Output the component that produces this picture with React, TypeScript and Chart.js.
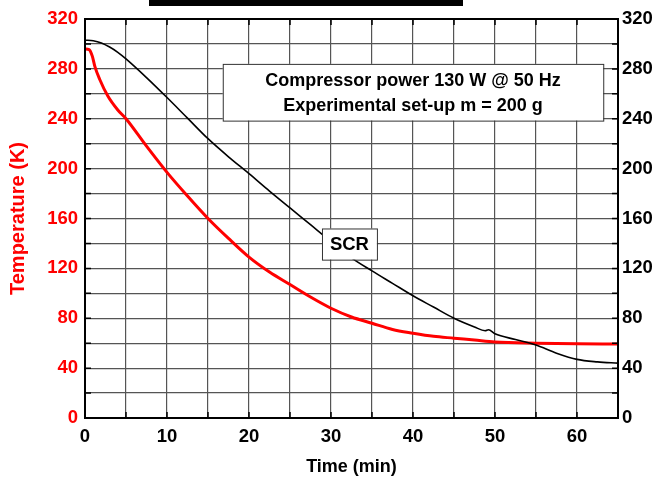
import React, { useEffect, useRef } from 'react';
import { Chart, registerables } from 'chart.js';

Chart.register(...registerables);

const FONT = "'Liberation Sans', Arial, Helvetica, sans-serif";

const redTime = [0, 0.5, 0.9, 1.2, 1.8, 2.8, 4, 5, 7.5, 10, 12.5, 15, 17.5, 20, 22.5, 25, 27.5, 30, 32.5, 35, 37.5, 40, 42.5, 45, 47.5, 50, 55, 60, 65];
const redTemp = [296, 295.5, 290, 282, 271.5, 258, 247, 240, 218, 197, 178, 160, 144, 129, 117, 107, 97, 88, 81, 76, 71, 68, 65.5, 64, 62.5, 61, 60, 59.5, 59.4];

const blackTime = [0, 1, 2, 3, 4, 5, 7.5, 10, 12.5, 15, 17.5, 20, 22.5, 25, 27.5, 30, 32.5, 35, 37.5, 40, 42.5, 45, 47.5, 48.8, 49.2, 50, 52.5, 55, 57.5, 60, 62.5, 65];
const blackTemp = [303, 302.6, 300.8, 297.5, 293.3, 288, 273, 257, 240.5, 224, 209.5, 196, 182, 168.5, 155, 141.5, 128.5, 118, 108, 98, 89, 80, 73, 70, 70.8, 67.5, 63, 58.5, 52, 47, 45, 44];

const xLabelStep = 10;
const yLabelStep = 40;
const noteLines = ['Compressor power 130 W @ 50 Hz', 'Experimental set-up m = 200 g'];
const curveLabel = 'SCR';

const decorPlugin = {
  id: 'decor',
  beforeDraw(chart: any) {
    const ctx = chart.ctx;
    ctx.save();
    ctx.fillStyle = '#000';
    ctx.fillRect(149, 0, 314, 6);
    ctx.restore();
  },
  afterDatasetsDraw(chart: any) {
    const { ctx, chartArea, scales } = chart;
    const xs = scales.x;
    const ys = scales.y;
    ctx.save();
    ctx.strokeStyle = '#000';
    ctx.lineWidth = 1.5;
    for (let v = 5; v < 65; v += 5) {
      const px = xs.getPixelForValue(v);
      ctx.beginPath();
      ctx.moveTo(px, chartArea.bottom);
      ctx.lineTo(px, chartArea.bottom - 6);
      ctx.moveTo(px, chartArea.top);
      ctx.lineTo(px, chartArea.top + 6);
      ctx.stroke();
    }
    for (let v = 20; v < 320; v += 20) {
      const py = ys.getPixelForValue(v);
      ctx.beginPath();
      ctx.moveTo(chartArea.left, py);
      ctx.lineTo(chartArea.left + 6, py);
      ctx.moveTo(chartArea.right, py);
      ctx.lineTo(chartArea.right - 6, py);
      ctx.stroke();
    }
    ctx.lineWidth = 2;
    ctx.strokeRect(chartArea.left, chartArea.top, chartArea.right - chartArea.left, chartArea.bottom - chartArea.top);

    const bx1 = xs.getPixelForValue(16.8);
    const bx2 = xs.getPixelForValue(63.2);
    const by1 = ys.getPixelForValue(284);
    const by2 = ys.getPixelForValue(238.5);
    ctx.fillStyle = '#fff';
    ctx.fillRect(bx1, by1, bx2 - bx1, by2 - by1);
    ctx.strokeStyle = '#333';
    ctx.lineWidth = 1;
    ctx.strokeRect(bx1 + 0.5, by1 + 0.5, bx2 - bx1, by2 - by1);
    ctx.fillStyle = '#000';
    ctx.font = `bold 18px ${FONT}`;
    ctx.textAlign = 'center';
    ctx.textBaseline = 'middle';
    const cx = (bx1 + bx2) / 2;
    ctx.fillText(noteLines[0], cx, by1 + 17);
    ctx.fillText(noteLines[1], cx, by1 + 42);

    const sx1 = xs.getPixelForValue(28.9);
    const sx2 = xs.getPixelForValue(35.6);
    const sy1 = ys.getPixelForValue(152);
    const sy2 = ys.getPixelForValue(127);
    ctx.fillStyle = '#fff';
    ctx.fillRect(sx1, sy1, sx2 - sx1, sy2 - sy1);
    ctx.strokeStyle = '#333';
    ctx.strokeRect(sx1 + 0.5, sy1 + 0.5, sx2 - sx1, sy2 - sy1);
    ctx.fillStyle = '#000';
    ctx.font = `bold 18.5px ${FONT}`;
    ctx.fillText(curveLabel, (sx1 + sx2) / 2, (sy1 + sy2) / 2 + 1);
    ctx.restore();
  },
};

export default function App() {
  const ref = useRef<HTMLCanvasElement | null>(null);
  useEffect(() => {
    if (!ref.current) return;
    const red = redTime.map((t, i) => ({ x: t, y: redTemp[i] }));
    const black = blackTime.map((t, i) => ({ x: t, y: blackTemp[i] }));
    const chart = new Chart(ref.current, {
      type: 'line',
      data: {
        datasets: [
          {
            data: black,
            borderColor: '#000',
            borderWidth: 1.6,
            pointRadius: 0,
            cubicInterpolationMode: 'monotone',
            yAxisID: 'y',
          },
          {
            data: red,
            borderColor: '#ff0000',
            borderWidth: 3,
            pointRadius: 0,
            cubicInterpolationMode: 'monotone',
            yAxisID: 'y',
          },
        ],
      },
      options: {
        responsive: false,
        animation: false,
        layout: { padding: { top: 19, left: 0, right: 0, bottom: 0 } },
        plugins: { legend: { display: false }, tooltip: { enabled: false } },
        scales: {
          x: {
            type: 'linear',
            min: 0,
            max: 65,
            position: 'bottom',
            grid: { color: '#555', lineWidth: 1.2, drawTicks: false, tickLength: 0 },
            border: { display: true, color: '#000', width: 2 },
            ticks: {
              stepSize: 5,
              autoSkip: false,
              maxRotation: 0,
              padding: 8,
              color: '#000',
              font: { family: FONT, size: 18.5, weight: 'bold' },
              callback: (v: any) => (Number(v) % xLabelStep === 0 ? String(v) : ''),
            },
            title: {
              display: true,
              text: 'Time (min)',
              color: '#000',
              font: { family: FONT, size: 18, weight: 'bold' },
              padding: { top: 0, bottom: 1 },
            },
            afterFit: (s: any) => { s.height = 61; },
          },
          y: {
            type: 'linear',
            min: 0,
            max: 320,
            position: 'left',
            grid: { color: '#555', lineWidth: 1.2, drawTicks: false, tickLength: 0 },
            border: { display: true, color: '#000', width: 2 },
            ticks: {
              stepSize: 20,
              autoSkip: false,
              padding: 7,
              color: '#ff0000',
              font: { family: FONT, size: 18.5, weight: 'bold' },
              callback: (v: any) => (Number(v) % yLabelStep === 0 ? String(v) : ''),
            },
            title: {
              display: true,
              text: 'Temperature (K)',
              color: '#ff0000',
              font: { family: FONT, size: 20, weight: 'bold' },
              padding: { top: 6, bottom: 0 },
            },
            afterFit: (s: any) => { s.width = 85; },
          },
          y2: {
            type: 'linear',
            min: 0,
            max: 320,
            position: 'right',
            grid: { drawOnChartArea: false, drawTicks: false, tickLength: 0 },
            border: { display: true, color: '#000', width: 2 },
            ticks: {
              stepSize: 20,
              autoSkip: false,
              padding: 4,
              color: '#000',
              font: { family: FONT, size: 18.5, weight: 'bold' },
              callback: (v: any) => (Number(v) % yLabelStep === 0 ? String(v) : ''),
            },
            afterFit: (s: any) => { s.width = 41; },
          },
        },
      } as any,
      plugins: [decorPlugin],
    });
    return () => chart.destroy();
  }, []);
  return (
    <div style={{ position: 'fixed', left: 0, top: 0, width: 659, height: 479, background: '#fff' }}>
      <canvas ref={ref} width={659} height={479} style={{ display: 'block' }} />
    </div>
  );
}
